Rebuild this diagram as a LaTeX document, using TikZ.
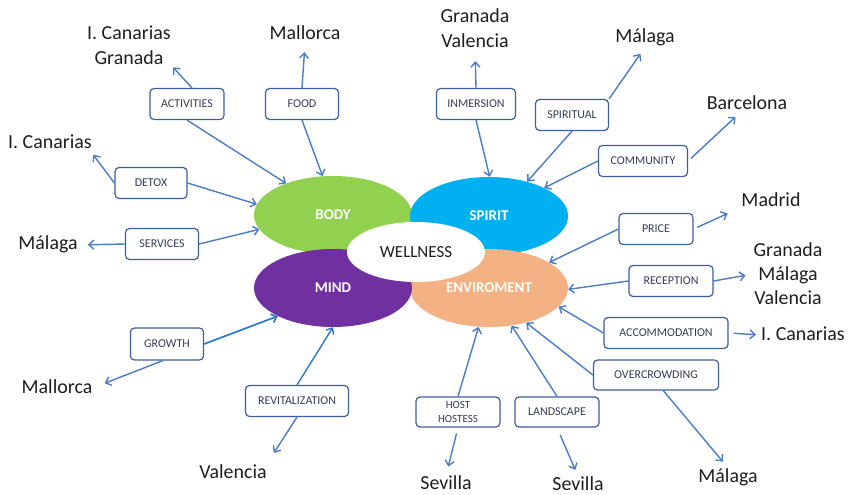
\documentclass[tikz,border=0pt]{standalone}
\usepackage{fontspec}
\setmainfont{Carlito}
\usetikzlibrary{shapes.geometric,arrows.meta}
\definecolor{arrc}{HTML}{4A7CC8}
\definecolor{arrb}{HTML}{2E78CC}
\definecolor{boxc}{HTML}{3E5F9E}
\definecolor{boxt}{HTML}{353C55}
\definecolor{labc}{HTML}{1E1E1E}
\definecolor{bodyc}{HTML}{92D050}
\definecolor{spiritc}{HTML}{00B0F0}
\definecolor{mindc}{HTML}{7030A0}
\definecolor{envc}{HTML}{F4B183}
\begin{document}
\begin{tikzpicture}[x=1bp,y=-1bp,
  box/.style={draw=boxc, line width=1.2bp, rounded corners=4bp, fill=white,
    font=\fontsize{12}{15}\selectfont, text=boxt, minimum height=31bp, inner sep=0pt, align=center},
  lab/.style={font=\fontsize{20}{25}\selectfont, text=labc, inner sep=0pt, text height=14bp, text depth=4bp},
  mlab/.style={font=\fontsize{20}{25}\selectfont, text=labc, inner sep=0pt, align=center},
  ell/.style={ellipse, minimum width=158bp, minimum height=78bp, inner sep=0pt,
    text=white, font=\fontsize{15}{18}\selectfont\bfseries},
  arr/.style={draw=arrc, line width=1.4bp, -{Straight Barb[length=5bp,width=9bp]}}]
\useasboundingbox (0,0) rectangle (848,495);

% central ellipses
\node[ell, fill=bodyc] (body) at (333,215) {BODY};
\node[ell, fill=spiritc] (spirit) at (489,216) {SPIRIT};
\node[ell, fill=envc] (env) at (489,288) {ENVIROMENT};
\node[ell, fill=mindc] (mind) at (333,288) {MIND};
\node[ellipse, fill=white, minimum width=138bp, minimum height=60bp, inner sep=0pt,
  font=\fontsize{17}{20}\selectfont, text=labc] (wellness) at (416,252) {WELLNESS};

% boxes
\node[box, minimum width=74bp] (activities) at (187,104) {ACTIVITIES};
\node[box, minimum width=73bp] (food) at (302,104) {FOOD};
\node[box, minimum width=72bp] (detox) at (151,183) {DETOX};
\node[box, minimum width=73bp] (services) at (162,244) {SERVICES};
\node[box, minimum width=79bp] (inmersion) at (476,104) {INMERSION};
\node[box, minimum width=73bp] (spiritual) at (572,115) {SPIRITUAL};
\node[box, minimum width=89bp] (community) at (643,161) {COMMUNITY};
\node[box, minimum width=74bp] (price) at (656,229) {PRICE};
\node[box, minimum width=84bp] (reception) at (671,281) {RECEPTION};
\node[box, minimum width=124bp] (accommodation) at (666,333) {ACCOMMODATION};
\node[box, minimum width=125bp, minimum height=30bp] (overcrowding) at (656,375) {OVERCROWDING};
\node[box, minimum width=84bp, minimum height=30bp, font=\fontsize{11}{15}\selectfont] (host) at (458,412) {HOST\\HOSTESS};
\node[box, minimum width=84bp, minimum height=30bp] (landscape) at (557,412) {LANDSCAPE};
\node[box, minimum width=73bp, minimum height=32bp] (growth) at (167,344) {GROWTH};
\node[box, minimum width=103bp] (revit) at (297,401) {REVITALIZATION};

% labels
\node[mlab] (actlab) at (129,45.5) {I. Canarias\\Granada};
\node[lab, anchor=base] (mallorca1) at (305,40) {Mallorca};
\node[lab, anchor=base] (ican1) at (50,149) {I. Canarias};
\node[lab, anchor=base] (malaga1) at (48,250) {Málaga};
\node[mlab] (gvlab) at (475,28.5) {Granada\\Valencia};
\node[lab, anchor=base] (malaga2) at (645,43) {Málaga};
\node[lab, anchor=base] (barcelona) at (747,110) {Barcelona};
\node[lab, anchor=base] (madrid) at (771,207) {Madrid};
\node[mlab, font=\fontsize{20}{24}\selectfont] (gmvlab) at (788,274) {Granada\\Málaga\\Valencia};
\node[lab, anchor=base] (ican2) at (803,340) {I. Canarias};
\node[lab, anchor=base] (malaga3) at (728,482) {Málaga};
\node[lab, anchor=base] (sevilla1) at (446,489.5) {Sevilla};
\node[lab, anchor=base] (sevilla2) at (578,490.5) {Sevilla};
\node[lab, anchor=base] (mallorca2) at (57,393) {Mallorca};
\node[lab, anchor=base] (valencia) at (233,478) {Valencia};

% connectors
\draw[arr, shorten >=3bp] (activities.73) -- (actlab.south east);
\draw[arr] (activities.south) -- (body.146);
\draw[arr, shorten >=8bp] (food.north) -- (mallorca1.south);
\draw[arr] (food.south) -- (body.105);
\draw[arr, shorten >=2bp] (detox.west) -- (ican1.south east);
\draw[arr] (detox.east) -- (body.172);
\draw[arr, shorten >=10bp] (services.west) -- (malaga1.east);
\draw[arr] (services.east) -- (body.191);
\draw[arr, shorten >=13bp] (inmersion.north) -- (gvlab.south);
\draw[arr] (inmersion.south) -- (spirit.89);
\draw[arr, shorten >=8bp] (spiritual.north east) -- (malaga2.south);
\draw[arr] (spiritual.south) -- (spirit.42);
\draw[arr] (community.west) -- (spirit.27);
\draw[arr, shorten <=4bp, shorten >=4bp] (community.east) -- (barcelona.-133);
\draw[arr] (price.west) -- (env.23);
\draw[arr, shorten <=4bp, shorten >=15bp] (price.east) -- (madrid.-170);
\draw[arr] (reception.west) -- (env.-1);
\draw[arr, shorten >=8bp] (reception.east) -- (gmvlab.west);
\draw[arr] (accommodation.west) -- (env.-15);
\draw[arr, shorten <=5bp, shorten >=5bp] (accommodation.east) -- (ican2.west);
\draw[arr] (overcrowding.west) -- (env.-43);
\draw[arr, shorten >=8bp] (overcrowding.-65) -- (malaga3.north);
\draw[arr] (host.north) -- (env.-105);
\draw[arr, shorten <=6bp, shorten >=9bp] (host.south) -- (sevilla1.north);
\draw[arr] (landscape.north) -- (env.-59);
\draw[arr, shorten <=8bp, shorten >=7bp] (landscape.south) -- (sevilla2.north);
\draw[arr, draw=arrb, line width=1.7bp] (growth.east) -- (mind.207);
\draw[arr, shorten >=13bp] (growth.-104) -- (mallorca2.east);
\draw[arr, draw=arrb] (revit.north) -- (mind.-90);
\draw[arr, shorten >=13bp] (revit.south) -- (valencia.north east);
\end{tikzpicture}
\end{document}
